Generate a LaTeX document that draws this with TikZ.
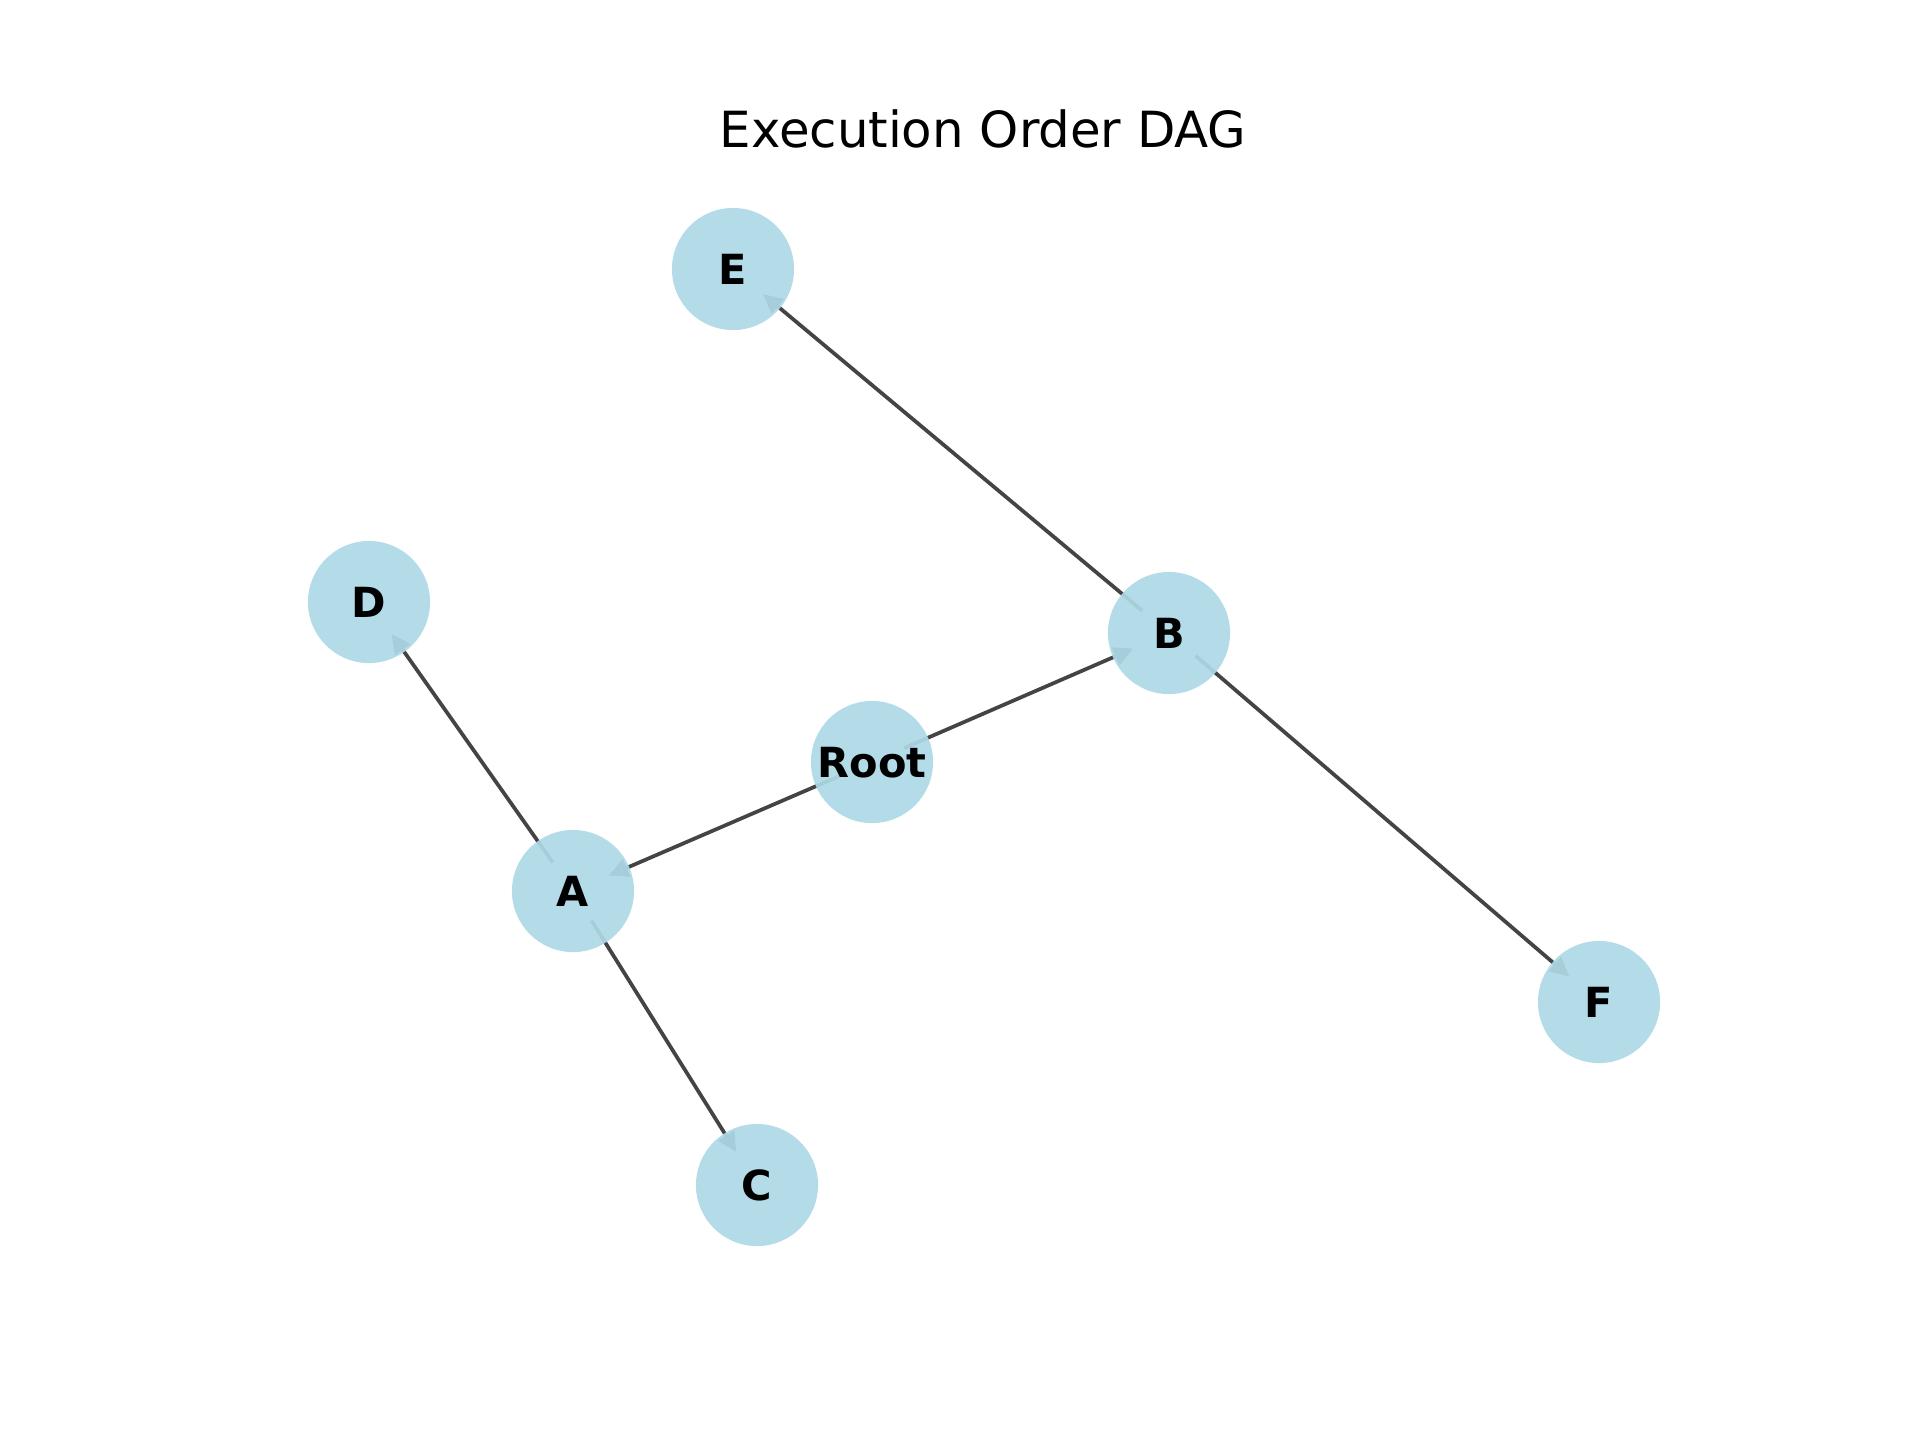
\documentclass[tikz,border=0pt]{standalone}
\usepackage{fontspec}
\setmainfont{DejaVu Sans}
\usetikzlibrary{arrows.meta,backgrounds}
\definecolor{nodeblue}{RGB}{173,216,230}
\definecolor{edgegray}{RGB}{68,68,68}
\tikzset{
  task/.style={circle, fill=nodeblue, fill opacity=0.93, text opacity=1, inner sep=0pt,
    minimum size=29.3bp, font=\bfseries\fontsize{10}{12}\selectfont},
  dep/.style={draw=edgegray, line width=0.9pt, shorten <=8.4bp, shorten >=9.4bp,
    -{Triangle[length=4.6bp,width=4.4bp]}}
}
\begin{document}
\begin{tikzpicture}[x=0.24bp, y=-0.24bp]
  \useasboundingbox (0,0) rectangle (1920,1440);
  \node (title) at (983,129) {\fontsize{12}{14}\selectfont Execution Order DAG};
  \begin{scope}[every node/.append style={text depth=0pt}]
  \node[task] (root) at (872,762) {Root};
  \node[task] (a) at (573,891) {A};
  \node[task] (b) at (1169,633) {B};
  \node[task] (c) at (757,1185) {C};
  \node[task] (d) at (369,602) {D};
  \node[task] (e) at (733,269) {E};
  \node[task] (f) at (1599,1002) {F};
  \end{scope}
  \begin{scope}[on background layer]
    \draw[dep] (root.center) -- (a.center);
    \draw[dep] (root.center) -- (b.center);
    \draw[dep] (a.center) -- (c.center);
    \draw[dep] (a.center) -- (d.center);
    \draw[dep] (b.center) -- (e.center);
    \draw[dep] (b.center) -- (f.center);
  \end{scope}
\end{tikzpicture}
\end{document}
